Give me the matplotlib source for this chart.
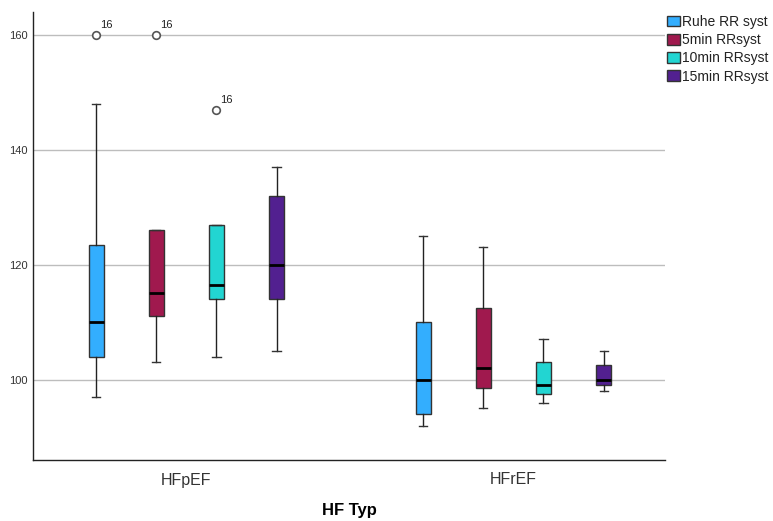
import matplotlib
matplotlib.use("Agg")
import matplotlib.pyplot as plt
from matplotlib.patches import Patch

plt.rcParams["font.family"] = ["Liberation Sans", "DejaVu Sans"]

# Blood pressure (systolic) by heart failure type and time point
groups = ["HFpEF", "HFrEF"]
series = ["Ruhe RR syst", "5min RRsyst", "10min RRsyst", "15min RRsyst"]
colors = ["#33aefe", "#a0194e", "#22d5d2", "#522090"]

# per series: [HFpEF, HFrEF]
whislo = [[97, 92], [103, 95], [104, 96], [105, 98]]
q1 = [[104, 94], [111, 98.5], [114, 97.5], [114, 99]]
med = [[110, 100], [115, 102], [116.5, 99], [120, 100]]
q3 = [[123.5, 110], [126, 112.5], [127, 103], [132, 102.5]]
whishi = [[148, 125], [126, 123], [127, 107], [137, 105]]
outliers = [[[160], []], [[160], []], [[147], []], [[], []]]
outlier_case = "16"

fig = plt.figure(figsize=(7.73, 5.21), dpi=100)
ax = fig.add_axes([33 / 773, 1 - 460 / 521, 632 / 773, 448 / 521])

spacing = 0.184
width = 0.046
for i, name in enumerate(series):
    stats = []
    for g in range(len(groups)):
        stats.append(dict(whislo=whislo[i][g], q1=q1[i][g], med=med[i][g],
                          q3=q3[i][g], whishi=whishi[i][g], fliers=outliers[i][g]))
    pos = [g + (i - 1.5) * spacing for g in range(len(groups))]
    ax.bxp(stats, positions=pos, widths=width, patch_artist=True, showfliers=True,
           boxprops=dict(facecolor=colors[i], edgecolor="#333333", linewidth=1),
           medianprops=dict(color="black", linewidth=2),
           whiskerprops=dict(color="#222222", linewidth=1),
           capprops=dict(color="#333333", linewidth=1),
           capwidths=width * 0.55,
           flierprops=dict(marker="o", markersize=5.5, markerfacecolor="white",
                           markeredgecolor="#555555", markeredgewidth=1.2),
           zorder=3)
    for g in range(len(groups)):
        for v in outliers[i][g]:
            ax.annotate(outlier_case, (pos[g], v), xytext=(3, 5), textcoords="offset points",
                        fontsize=8, color="#222222")

ax.set_xlim(-0.4687, 1.4635)
ax.set_ylim(86, 164)
ax.set_yticks([100, 120, 140, 160])
ax.set_xticks([0, 1])
ax.set_xticklabels(groups, fontsize=11.5, color="#333333")
ax.tick_params(axis="y", length=0, labelsize=8, labelcolor="#333333", pad=4)
ax.tick_params(axis="x", length=0, pad=9)
ax.grid(axis="y", color="#bdbdbd", linewidth=1, zorder=0)
ax.set_axisbelow(True)
for s in ["top", "right"]:
    ax.spines[s].set_visible(False)
for s in ["left", "bottom"]:
    ax.spines[s].set_color("#222222")
    ax.spines[s].set_linewidth(1)
ax.set_xlabel("HF Typ", fontsize=12, fontweight="bold", labelpad=11)

handles = [Patch(facecolor=c, edgecolor="#333333", linewidth=1) for c in colors]
fig.legend(handles, series, loc="upper left", bbox_to_anchor=(667 / 773, 1 - 15 / 521),
           frameon=False, fontsize=10, handlelength=0.9, handleheight=0.8,
           handletextpad=0.15, labelspacing=0.3, borderaxespad=0, borderpad=0,
           labelcolor="#222222")

fig.savefig("out.png", dpi=100)
